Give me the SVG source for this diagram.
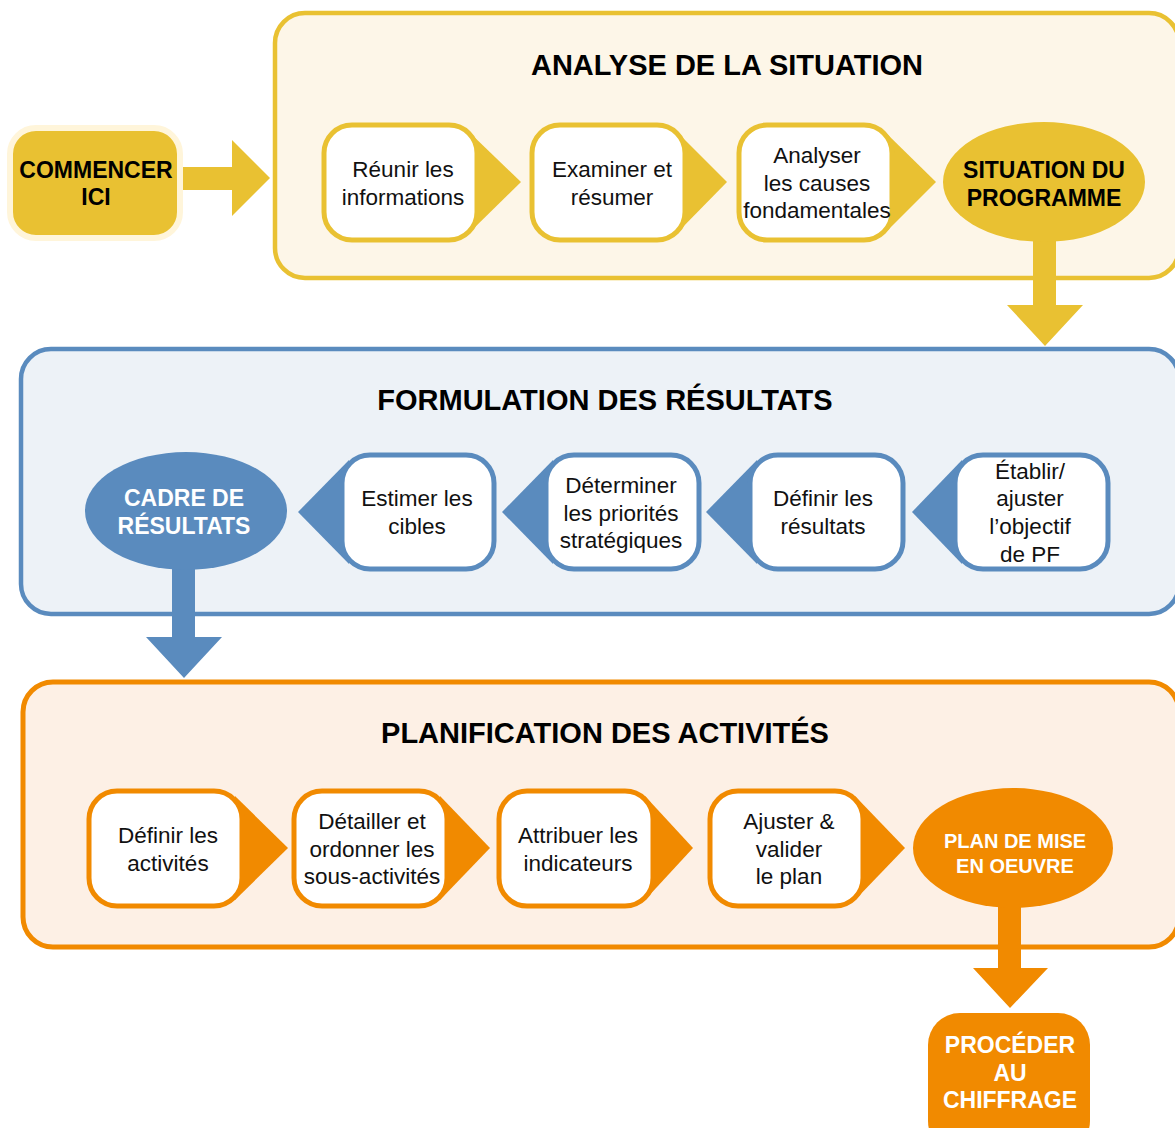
<svg xmlns="http://www.w3.org/2000/svg" width="1175" height="1128" viewBox="0 0 1175 1128">
<style>
.t{font-family:"Liberation Sans",Arial,sans-serif;font-size:22.5px;fill:#111;text-anchor:middle}
.b{font-family:"Liberation Sans",Arial,sans-serif;font-weight:bold;font-size:23px;text-anchor:middle}
.b20{font-size:20px}
.wt{fill:#fff}
.title{font-family:"Liberation Sans",Arial,sans-serif;font-weight:bold;font-size:29px;fill:#000;text-anchor:middle}
.y{fill:#E9C132}
.bl{fill:#5A8BBE}
.o{fill:#F18A00}
.boxY{fill:#fff;stroke:#E9C132;stroke-width:5}
.boxB{fill:#fff;stroke:#5A8BBE;stroke-width:5}
.boxO{fill:#fff;stroke:#F18A00;stroke-width:5}
</style>

<!-- panels -->
<g id="panel-analyse">
<rect x="275" y="13" width="904" height="265" rx="30" fill="#FDF6E8" stroke="#E9C132" stroke-width="4.5"/>
<text class="title" x="727" y="75">ANALYSE DE LA SITUATION</text>
</g>
<g id="panel-formulation">
<rect x="21" y="349" width="1158" height="265" rx="30" fill="#EDF2F7" stroke="#5A8BBE" stroke-width="4.5"/>
<text class="title" x="605" y="410">FORMULATION DES RÉSULTATS</text>
</g>
<g id="panel-planification">
<rect x="23" y="682" width="1156" height="265" rx="30" fill="#FDF0E5" stroke="#F18A00" stroke-width="5"/>
<text class="title" x="605" y="743">PLANIFICATION DES ACTIVITÉS</text>
</g>

<!-- connectors -->
<g id="connectors">
<polygon class="y" points="180,167 232,167 232,140 270,178 232,216 232,190 180,190"/>
<polygon class="y" points="1033,230 1056,230 1056,305 1083,305 1045,346 1007,305 1033,305"/>
<polygon class="bl" points="172,560 195,560 195,637 222,637 184,678 146,637 172,637"/>
<polygon class="o" points="998,895 1021,895 1021,968 1048,968 1010,1008 973,968 998,968"/>
</g>

<!-- start -->
<g id="commencer">
<rect x="10" y="128" width="170" height="110" rx="26" class="y" stroke="#FFF5DA" stroke-width="6"/>
<text class="b" x="96" y="178">COMMENCER</text>
<text class="b" x="96" y="205">ICI</text>
</g>

<!-- row 1 -->
<g id="reunir">
<polygon class="y" points="468,131 521,182 468,234"/>
<rect class="boxY" x="324" y="125" width="153" height="115" rx="28"/>
<text class="t" x="403" y="177">Réunir les</text>
<text class="t" x="403" y="205">informations</text>
</g>
<g id="examiner">
<polygon class="y" points="676,131 727,182 676,234"/>
<rect class="boxY" x="532" y="125" width="153" height="115" rx="28"/>
<text class="t" x="612" y="177">Examiner et</text>
<text class="t" x="612" y="205">résumer</text>
</g>
<g id="analyser">
<polygon class="y" points="884,131 936,182 884,234"/>
<rect class="boxY" x="739" y="125" width="153" height="115" rx="28"/>
<text class="t" x="817" y="163">Analyser</text>
<text class="t" x="817" y="191">les causes</text>
<text class="t" x="817" y="218">fondamentales</text>
</g>
<g id="situation">
<ellipse class="y" cx="1044" cy="182" rx="101" ry="60"/>
<text class="b" x="1044" y="178">SITUATION DU</text>
<text class="b" x="1044" y="206">PROGRAMME</text>
</g>

<!-- row 2 -->
<g id="etablir">
<polygon class="bl" points="962,460 912,512 962,564"/>
<rect class="boxB" x="955" y="455" width="153" height="114" rx="28"/>
<text class="t" x="1030" y="479">Établir/</text>
<text class="t" x="1030" y="506">ajuster</text>
<text class="t" x="1030" y="534">l’objectif</text>
<text class="t" x="1030" y="562">de PF</text>
</g>
<g id="definir-resultats">
<polygon class="bl" points="757,460 706,512 757,564"/>
<rect class="boxB" x="750" y="455" width="153" height="114" rx="28"/>
<text class="t" x="823" y="506">Définir les</text>
<text class="t" x="823" y="534">résultats</text>
</g>
<g id="determiner">
<polygon class="bl" points="553,460 502,512 553,564"/>
<rect class="boxB" x="546" y="455" width="153" height="114" rx="28"/>
<text class="t" x="621" y="493">Déterminer</text>
<text class="t" x="621" y="521">les priorités</text>
<text class="t" x="621" y="548">stratégiques</text>
</g>
<g id="estimer">
<polygon class="bl" points="349,460 298,512 349,564"/>
<rect class="boxB" x="342" y="455" width="152" height="114" rx="28"/>
<text class="t" x="417" y="506">Estimer les</text>
<text class="t" x="417" y="534">cibles</text>
</g>
<g id="cadre">
<ellipse class="bl" cx="186" cy="511" rx="101" ry="59"/>
<text class="b wt" x="184" y="506">CADRE DE</text>
<text class="b wt" x="184" y="534">RÉSULTATS</text>
</g>

<!-- row 3 -->
<g id="definir-activites">
<polygon class="o" points="235,796 288,848 235,900"/>
<rect class="boxO" x="89" y="791" width="153" height="115" rx="28"/>
<text class="t" x="168" y="843">Définir les</text>
<text class="t" x="168" y="871">activités</text>
</g>
<g id="detailler">
<polygon class="o" points="440,796 490,848 440,900"/>
<rect class="boxO" x="294" y="791" width="153" height="115" rx="28"/>
<text class="t" x="372" y="829">Détailler et</text>
<text class="t" x="372" y="857">ordonner les</text>
<text class="t" x="372" y="884">sous-activités</text>
</g>
<g id="attribuer">
<polygon class="o" points="645,796 693,848 645,900"/>
<rect class="boxO" x="499" y="791" width="154" height="115" rx="28"/>
<text class="t" x="578" y="843">Attribuer les</text>
<text class="t" x="578" y="871">indicateurs</text>
</g>
<g id="ajuster">
<polygon class="o" points="855,796 905,848 855,900"/>
<rect class="boxO" x="710" y="791" width="153" height="115" rx="28"/>
<text class="t" x="789" y="829">Ajuster &amp;</text>
<text class="t" x="789" y="857">valider</text>
<text class="t" x="789" y="884">le plan</text>
</g>
<g id="plan">
<ellipse class="o" cx="1013" cy="848" rx="100" ry="60"/>
<text class="b b20 wt" x="1015" y="848">PLAN DE MISE</text>
<text class="b b20 wt" x="1015" y="873">EN OEUVRE</text>
</g>

<!-- end -->
<g id="chiffrage">
<rect class="o" x="928" y="1013" width="162" height="140" rx="32"/>
<text class="b wt" x="1010" y="1053">PROCÉDER</text>
<text class="b wt" x="1010" y="1081">AU</text>
<text class="b wt" x="1010" y="1108">CHIFFRAGE</text>
</g>
</svg>
